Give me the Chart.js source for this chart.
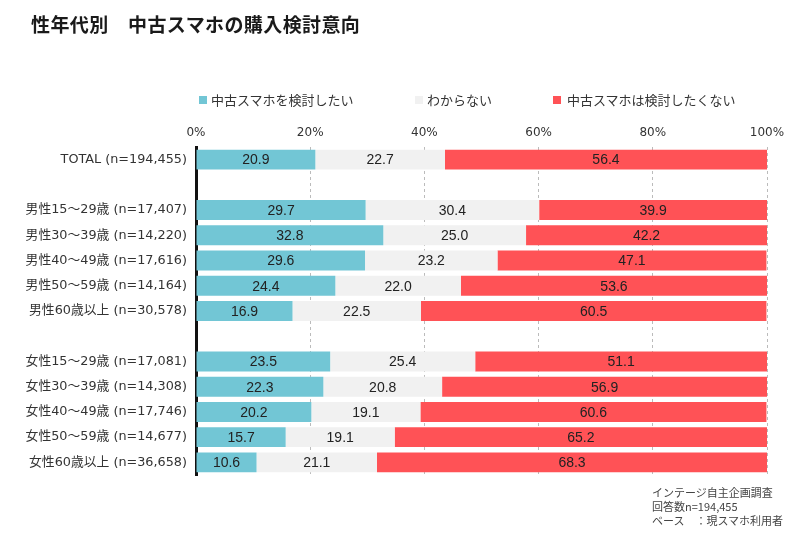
<!DOCTYPE html>
<html>
<head>
<meta charset="utf-8">
<script src="https://cdn.jsdelivr.net/npm/chart.js@4.4.1/dist/chart.umd.min.js"></script>
<style>
  html, body { margin: 0; padding: 0; background: #fff; }
  #wrap { position: relative; width: 799px; height: 533px; overflow: hidden; font-family: "Noto Sans CJK JP", "Noto Sans", sans-serif; color: #222; }
  #c { position: absolute; left: 0; top: 0; }
  .title { position: absolute; left: 31px; top: 11px; font-size: 19px; letter-spacing: 0.4px; font-weight: bold; line-height: 26px; white-space: pre; color: #1a1a1a; }
  .lg { position: absolute; top: 91px; height: 18px; line-height: 18px; font-size: 13px; color: #333; white-space: nowrap; }
  .sq { position: absolute; top: 96px; width: 8px; height: 8px; }
  .note { position: absolute; left: 652px; top: 485px; font-size: 11px; line-height: 14px; color: #444; white-space: pre; }
</style>
</head>
<body>
<div id="wrap">
  <canvas id="c" width="799" height="533"></canvas>
  <div class="title">性年代別　中古スマホの購入検討意向</div>
  <div id="legend"></div>
  <div class="note">インテージ自主企画調査
回答数n=194,455
ベース　：現スマホ利用者</div>
</div>
<script>
const categories = [
  'TOTAL (n=194,455)', '',
  '男性15～29歳 (n=17,407)', '男性30～39歳 (n=14,220)', '男性40～49歳 (n=17,616)',
  '男性50～59歳 (n=14,164)', '男性60歳以上 (n=30,578)', '',
  '女性15～29歳 (n=17,081)', '女性30～39歳 (n=14,308)', '女性40～49歳 (n=17,746)',
  '女性50～59歳 (n=14,677)', '女性60歳以上 (n=36,658)'
];
const seriesNames = ['中古スマホを検討したい', 'わからない', '中古スマホは検討したくない'];
const consider    = [20.9, null, 29.7, 32.8, 29.6, 24.4, 16.9, null, 23.5, 22.3, 20.2, 15.7, 10.6];
const unsure      = [22.7, null, 30.4, 25.0, 23.2, 22.0, 22.5, null, 25.4, 20.8, 19.1, 19.1, 21.1];
const notConsider = [56.4, null, 39.9, 42.2, 47.1, 53.6, 60.5, null, 51.1, 56.9, 60.6, 65.2, 68.3];
const xTicks = [0, 20, 40, 60, 80, 100];

const colors = ['#72C6D5', '#F1F1F1', '#FF5256'];

// HTML legend
const legendPos = [[199, 211], [415, 427], [553, 567]];
const lg = document.getElementById('legend');
seriesNames.forEach((n, i) => {
  const s = document.createElement('div');
  s.className = 'sq';
  s.style.left = legendPos[i][0] + 'px';
  s.style.background = colors[i];
  lg.appendChild(s);
  const t = document.createElement('div');
  t.className = 'lg';
  t.style.left = legendPos[i][1] + 'px';
  t.textContent = n;
  lg.appendChild(t);
});

const valueLabels = {
  id: 'valueLabels',
  afterDatasetsDraw(chart) {
    const ctx = chart.ctx;
    ctx.save();
    ctx.font = '14px "Liberation Sans", Arial, sans-serif';
    ctx.fillStyle = '#222';
    ctx.textAlign = 'center';
    ctx.textBaseline = 'middle';
    chart.data.datasets.forEach((ds, di) => {
      const meta = chart.getDatasetMeta(di);
      meta.data.forEach((el, i) => {
        const v = ds.data[i];
        if (v === null || v === undefined) return;
        const x = (el.x + el.base) / 2;
        ctx.fillText(v.toFixed(1), x, el.y + 1);
      });
    });
    ctx.restore();
  }
};

const labelFont = '"DejaVu Sans", "Noto Sans CJK JP", sans-serif';

new Chart(document.getElementById('c'), {
  type: 'bar',
  data: {
    labels: categories,
    datasets: [
      { label: seriesNames[0], data: consider, backgroundColor: colors[0] },
      { label: seriesNames[1], data: unsure, backgroundColor: colors[1] },
      { label: seriesNames[2], data: notConsider, backgroundColor: colors[2] }
    ]
  },
  options: {
    indexAxis: 'y',
    responsive: false,
    animation: false,
    devicePixelRatio: 1,
    layout: { padding: { top: 120, left: 0, right: 32, bottom: 58 } },
    datasets: { bar: { barPercentage: 1, categoryPercentage: 0.79 } },
    plugins: {
      legend: { display: false },
      title: { display: false },
      tooltip: { enabled: false }
    },
    scales: {
      x: {
        position: 'top',
        stacked: true,
        min: 0,
        max: 100,
        afterBuildTicks(scale) { scale.ticks = xTicks.map(v => ({ value: v })); },
        afterFit(scale) { scale.height = 27; },
        ticks: {
          padding: 7,
          color: '#333',
          font: { size: 12, family: labelFont },
          callback: v => v + '%'
        },
        grid: { color: '#BBBBBB', lineWidth: 1, drawTicks: false },
        border: { display: false, dash: [3, 3] }
      },
      y: {
        stacked: true,
        afterFit(scale) { scale.width = 196; },
        ticks: {
          padding: 9,
          color: '#333',
          autoSkip: false,
          font: { size: 12.8, family: labelFont }
        },
        grid: { display: false, drawTicks: false },
        border: { display: true, color: '#111', width: 3 }
      }
    }
  },
  plugins: [valueLabels]
});
</script>
</body>
</html>
